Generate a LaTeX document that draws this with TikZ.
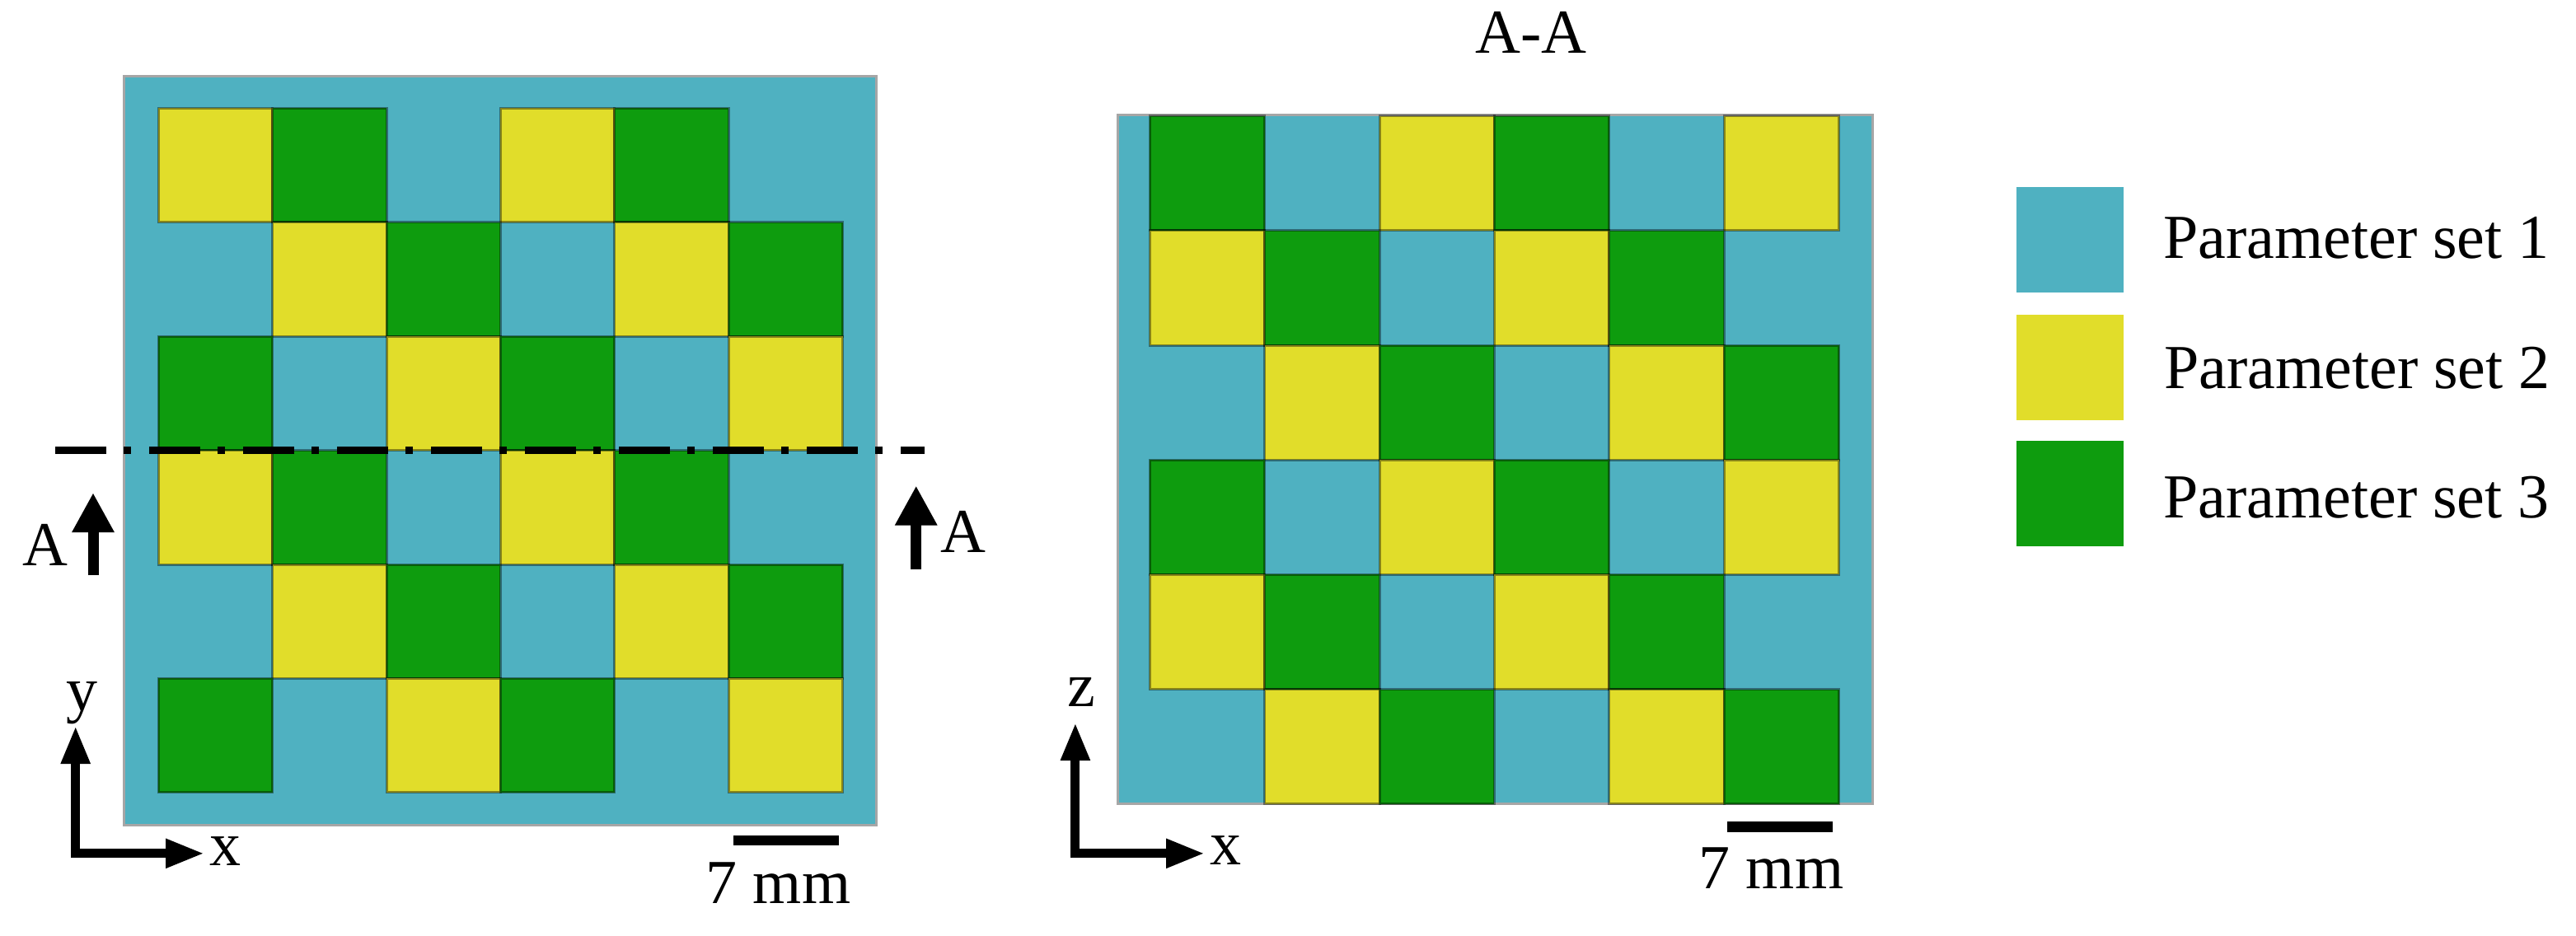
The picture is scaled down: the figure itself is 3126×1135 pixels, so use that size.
\documentclass[tikz,border=0pt]{standalone}
\usepackage{fontspec}
\setmainfont{Liberation Serif}
\usetikzlibrary{arrows.meta}
\definecolor{pblue}{RGB}{79,177,193}
\definecolor{pyellow}{RGB}{225,221,42}
\definecolor{pgreen}{RGB}{14,156,14}
\begin{document}
\begin{tikzpicture}[x=1pt,y=-1pt,
  lbl/.style={font=\fontsize{76}{88}\selectfont,inner sep=0pt,text=black},
  tile/.style={draw=black,draw opacity=0.4,line width=3pt},
  plate/.style={fill=pblue,draw=black!35,line width=3pt},
  legbox/.style={inner sep=0pt,minimum width=130pt,minimum height=128pt,anchor=north west},
  bigarrow/.style={line width=13pt,-{Triangle[length=48pt,width=48pt]}},
  axisarrow/.style={line width=11pt,line join=miter,{Triangle[length=46pt,width=33pt]}-{Triangle[length=47pt,width=33pt]}},
  sectionline/.style={line width=9pt,dash pattern=on 62pt off 21pt on 9pt off 22pt}]
\useasboundingbox (0,0) rectangle (3126,1135);

% ---------- left plate (top view) ----------
\draw[plate] (150.3,92) rectangle (1063.4,1001);
\foreach \r in {0,...,5}{\foreach \c in {0,...,5}{
  \pgfmathtruncatemacro\k{mod(\c-\r+6,3)}
  \ifnum\k=0 \filldraw[tile,fill=pyellow] ({192.2+\c*138.4},{131.4+\r*138.4}) rectangle ++(138.4,138.4);\fi
  \ifnum\k=1 \filldraw[tile,fill=pgreen] ({192.2+\c*138.4},{131.4+\r*138.4}) rectangle ++(138.4,138.4);\fi
}}

% section line
\coordinate (sl) at (67,546);
\coordinate (sr) at (1122,546);
\draw[sectionline] (sl) -- (sr);

% section arrows
\coordinate (la0) at (113,698);
\coordinate (la1) at (113,598);
\draw[bigarrow] (la0) -- (la1);
\node[lbl,anchor=base west] (lA) at (27,686) {A};
\coordinate (ra0) at (1111.7,691);
\coordinate (ra1) at (1111.7,589.5);
\draw[bigarrow] (ra0) -- (ra1);
\node[lbl,anchor=base west] (rA) at (1141,670) {A};

% axes left
\coordinate (lyt) at (91.7,881);
\coordinate (lo) at (91.7,1035.8);
\coordinate (lxt) at (248,1035.8);
\draw[axisarrow] (lyt) -- (lo) -- (lxt);
\node[lbl,anchor=base] (ly) at (99,862) {y};
\node[lbl,anchor=base] (lx) at (273,1050) {x};

% scale bar left
\fill[black] (889.6,1014) rectangle (1018,1026);
\node[lbl,anchor=base] (ls) at (944.6,1096) {7 mm};

% ---------- right plate (section A-A) ----------
\node[lbl,anchor=base] (title) at (1858,64) {A-A};
\draw[plate] (1356.8,139.3) rectangle (2272.3,975.8);
\foreach \r in {0,...,5}{\foreach \c in {0,...,5}{
  \pgfmathtruncatemacro\k{mod(\c-\r+6,3)}
  \ifnum\k=0 \filldraw[tile,fill=pgreen] ({1395.4+\c*139.35},{140.6+\r*139.2}) rectangle ++(139.35,139.2);\fi
  \ifnum\k=2 \filldraw[tile,fill=pyellow] ({1395.4+\c*139.35},{140.6+\r*139.2}) rectangle ++(139.35,139.2);\fi
}}

% axes right
\coordinate (rzt) at (1304.9,877);
\coordinate (ro) at (1304.9,1035.8);
\coordinate (rxt) at (1462,1035.8);
\draw[axisarrow] (rzt) -- (ro) -- (rxt);
\node[lbl,anchor=base] (rz) at (1312,857) {z};
\node[lbl,anchor=base] (rx) at (1487.5,1049.5) {x};

% scale bar right
\fill[black] (2096.2,996.6) rectangle (2223.9,1009.5);
\node[lbl,anchor=base] (rs) at (2149.5,1078) {7 mm};

% ---------- legend ----------
\node[legbox,fill=pblue] (leg1) at (2447,227) {};
\node[legbox,fill=pyellow] (leg2) at (2447,382) {};
\node[legbox,fill=pgreen] (leg3) at (2447,535) {};
\node[lbl,anchor=base west] (t1) at (2625,313) {Parameter set 1};
\node[lbl,anchor=base west] (t2) at (2626,471) {Parameter set 2};
\node[lbl,anchor=base west] (t3) at (2625,628) {Parameter set 3};
\end{tikzpicture}
\end{document}
